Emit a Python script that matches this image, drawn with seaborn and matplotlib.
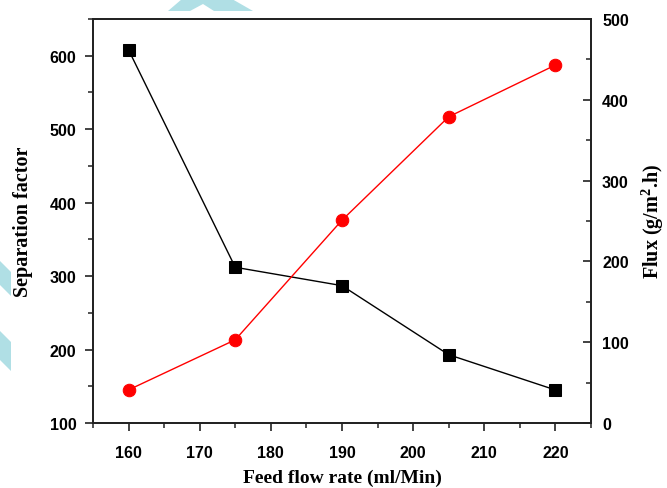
import matplotlib
matplotlib.use("Agg")
import matplotlib.pyplot as plt
from matplotlib.patches import Polygon
from matplotlib.ticker import MultipleLocator
import seaborn as sns
import pandas as pd

# Feed flow rate (ml/min) and the two measured responses
flow_rate = [160, 175, 190, 205, 220]
separation_factor = [608, 312, 287, 193, 145]
flux = [41, 103, 251, 379, 443]

df = pd.DataFrame({"flow": flow_rate, "sep": separation_factor, "flux": flux})

sns.set_style("ticks")
plt.rcParams["font.family"] = ["Liberation Sans", "DejaVu Sans"]
plt.rcParams["mathtext.fontset"] = "custom"
plt.rcParams["mathtext.rm"] = "Liberation Serif:bold"
plt.rcParams["mathtext.it"] = "Liberation Serif:bold"
plt.rcParams["mathtext.bf"] = "Liberation Serif:bold"

fig = plt.figure(figsize=(6.67, 4.89), dpi=100)
ax = fig.add_axes([0.1394, 0.1329, 0.7466, 0.8262])
ax2 = ax.twinx()

sns.lineplot(data=df, x="flow", y="sep", ax=ax, color="black", lw=1.0,
             marker="s", markersize=8, markeredgecolor="black",
             markerfacecolor="black")
sns.lineplot(data=df, x="flow", y="flux", ax=ax2, color="red", lw=1.0,
             marker="o", markersize=9, markeredgecolor="red",
             markerfacecolor="red")

ax.set_xlim(155, 225)
ax.set_ylim(100, 650)
ax2.set_ylim(0, 500)

ax.xaxis.set_major_locator(MultipleLocator(10))
ax.xaxis.set_minor_locator(MultipleLocator(5))
ax.yaxis.set_major_locator(MultipleLocator(100))
ax.yaxis.set_minor_locator(MultipleLocator(50))
ax2.yaxis.set_major_locator(MultipleLocator(100))
ax2.yaxis.set_minor_locator(MultipleLocator(50))

for a in (ax, ax2):
    for s in a.spines.values():
        s.set_linewidth(1.3)
        s.set_color("#222222")
ax.tick_params(which="major", direction="out", length=6, width=1.2,
               labelsize=11.5, colors="#222222")
ax.tick_params(which="minor", direction="out", length=3.5, width=1.1,
               colors="#222222")
ax.tick_params(axis="y", which="major", pad=6)
ax.tick_params(axis="x", which="major", pad=10)
ax.tick_params(top=False, right=False, which="both")
ax2.tick_params(which="major", direction="in", length=5.5, width=1.2,
                labelsize=11.5, pad=8, colors="#222222")
ax2.tick_params(which="minor", direction="in", length=3.5, width=1.1,
                colors="#222222")
ax2.tick_params(top=False, which="both")
for lab in ax.get_xticklabels() + ax.get_yticklabels() + ax2.get_yticklabels():
    lab.set_fontweight("bold")
    lab.set_color("black")

label_font = dict(family="Liberation Serif", fontweight="bold", color="black")
ax.set_xlabel("Feed flow rate (ml/Min)", labelpad=6, fontsize=14, **label_font)
ax.set_ylabel("Separation factor", labelpad=12, fontsize=14.5, **label_font)
ax2.set_ylabel(r"Flux (g/m$^2$.h)", labelpad=8, fontsize=14.5, **label_font)

# light cyan watermark strokes
W, H = 667, 489
def px(pts):
    return [(x / W, 1 - y / H) for x, y in pts]
wm = "#b0dfe5"
fig.patches.append(Polygon(px([(168, 12), (182, 0), (232, 0), (253, 12),
                               (214, 12), (203, 5), (190, 12)]),
                           closed=True, transform=fig.transFigure,
                           facecolor=wm, edgecolor="none", zorder=0))
fig.patches.append(Polygon(px([(0, 262), (11, 273), (11, 297), (0, 286)]),
                           closed=True, transform=fig.transFigure,
                           facecolor=wm, edgecolor="none", zorder=0))
fig.patches.append(Polygon(px([(0, 332), (11, 343), (11, 372), (0, 361)]),
                           closed=True, transform=fig.transFigure,
                           facecolor=wm, edgecolor="none", zorder=0))

fig.savefig("out.png", dpi=100)
